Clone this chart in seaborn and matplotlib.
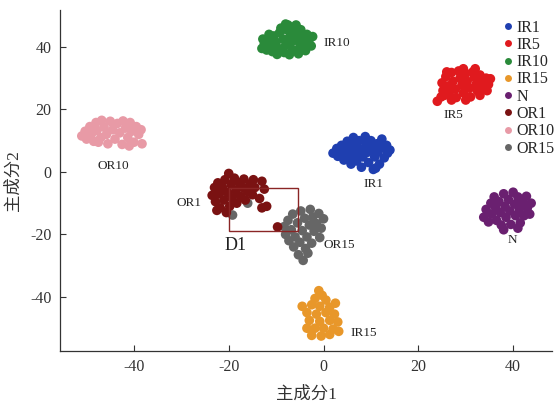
import numpy as np
import pandas as pd
import matplotlib
matplotlib.use("Agg")
import matplotlib.pyplot as plt
import seaborn as sns
from matplotlib.patches import Rectangle

# ---------------- data ----------------
classes = ["IR1", "IR5", "IR10", "IR15", "N", "OR1", "OR10", "OR15"]
colors = ["#1f3fb0", "#e01a1e", "#2a8a3a", "#e8972a", "#6a2070", "#7a1212", "#e89aa6", "#666666"]

ir10_x = [-13.0, -12.5, -12.0, -11.8, -11.0, -10.8, -10.5, -10.0, -9.5, -9.3, -9.0, -8.5, -8.3, -8.0, -7.8,
          -7.5, -7.0, -6.8, -6.5, -6.2, -6.0, -5.5, -5.3, -5.0, -4.8, -4.5, -4.0, -3.8, -3.5, -3.0, -2.6,
          -2.3, -11.5, -8.0, -5.8, -12.8, -7.2, -9.8]
ir10_y = [39.5, 41.0, 39.0, 42.5, 40.5, 38.5, 43.5, 41.5, 39.5, 44.5, 46.0, 42.5, 38.2, 40.5, 45.5,
          47.0, 43.5, 41.5, 39.0, 46.2, 44.5, 42.0, 37.8, 40.0, 45.5, 43.5, 41.0, 38.8, 44.0, 42.5, 40.3,
          43.3, 44.0, 47.3, 47.0, 42.5, 37.5, 37.6]

ir5_x = [24.0, 24.8, 25.2, 25.0, 25.8, 26.3, 26.5, 27.0, 27.3, 27.8, 28.0, 28.5, 28.8, 29.2, 29.5, 30.0,
         30.3, 30.8, 31.0, 31.5, 31.8, 32.2, 32.5, 33.0, 33.3, 33.8, 34.3, 34.8, 35.2, 26.0, 29.5, 32.0,
         27.0, 30.0, 33.0, 34.5, 25.5]
ir5_y = [22.6, 24.0, 26.0, 28.5, 30.5, 27.5, 25.0, 31.8, 29.0, 26.5, 23.8, 32.3, 30.0, 27.8, 25.3, 31.5,
         29.0, 26.8, 24.0, 32.0, 30.3, 28.0, 25.8, 31.0, 29.2, 27.0, 30.0, 28.0, 29.8, 32.0, 33.0, 33.0,
         23.0, 23.0, 24.5, 26.0, 24.5]

ir1_x = [2.0, 2.8, 3.0, 3.8, 4.0, 4.3, 5.0, 5.2, 5.5, 5.8, 6.3, 6.5, 6.8, 7.0, 7.5, 7.8, 8.0, 8.3, 8.8,
         9.0, 9.3, 9.5, 10.0, 10.3, 10.5, 10.8, 11.3, 11.5, 11.8, 12.3, 12.5, 12.8, 13.3, 13.5, 14.0, 11.0]
ir1_y = [6.0, 7.5, 5.0, 8.5, 6.3, 3.8, 9.8, 7.2, 4.8, 2.5, 11.0, 8.5, 6.0, 3.5, 10.0, 7.3, 1.5, 4.8, 11.3,
         8.8, 6.3, 3.0, 10.0, 7.5, 0.8, 4.8, 9.0, 6.3, 2.5, 10.5, 7.8, 4.5, 8.5, 6.0, 7.0, 1.2]

or10_x = [-51.0, -50.3, -50.0, -49.3, -49.0, -48.5, -48.0, -47.8, -47.0, -46.8, -46.3, -45.8, -45.5, -45.0,
          -44.5, -44.0, -43.5, -43.0, -42.5, -42.3, -41.8, -41.3, -40.8, -40.5, -40.0, -39.5, -39.0, -38.5,
          -38.3, -41.0, -47.5]
or10_y = [11.5, 13.0, 10.5, 14.5, 12.0, 9.8, 15.8, 13.3, 11.0, 16.5, 14.3, 12.0, 9.0, 16.2,
          13.5, 10.5, 15.5, 12.5, 8.8, 16.3, 14.0, 11.0, 15.8, 13.0, 9.5, 14.5, 12.0, 13.5,
          9.0, 8.3, 9.5]

or1_x = [-23.5, -23.0, -22.8, -22.3, -22.0, -21.8, -21.3, -21.0, -20.8, -20.5, -20.3, -20.0, -19.8, -19.5,
         -19.3, -18.8, -18.5, -18.3, -17.8, -17.5, -17.0, -16.8, -16.5, -16.0, -15.5, -15.0, -14.5, -13.5,
         -12.0, -13.0, -9.7, -22.5, -14.8, -13.0, -12.5]
or1_y = [-7.5, -5.0, -9.5, -3.5, -7.0, -11.5, -5.0, -9.0, -2.5, -13.0, -6.5, -0.5, -11.0, -4.0,
         -8.3, -2.0, -6.0, -10.0, -3.5, -7.8, -5.0, -2.3, -9.0, -6.3, -3.8, -7.3, -5.0, -8.5,
         -11.0, -11.5, -17.6, -12.3, -2.5, -3.0, -5.5]

or15_x = [-8.3, -8.0, -7.5, -7.3, -6.8, -6.5, -6.3, -6.0, -5.5, -5.3, -5.0, -4.8, -4.5, -4.3, -4.0, -3.8,
          -3.5, -3.0, -2.8, -2.5, -2.3, -2.0, -1.5, -1.0, -0.8, -0.5, 0.0, -3.3, -16.0, -19.2]
or15_y = [-17.5, -20.0, -15.5, -22.0, -18.5, -13.5, -24.0, -20.8, -16.3, -26.5, -22.5, -12.5, -18.8, -28.3,
          -14.8, -24.5, -20.8, -17.0, -12.0, -22.8, -14.5, -19.0, -16.5, -13.3, -21.0, -18.0, -15.0, -26.0,
          -10.0, -13.8]

n_x = [33.8, 34.3, 34.8, 35.3, 35.5, 36.0, 36.3, 36.5, 37.0, 37.3, 37.5, 38.0, 38.3, 38.5, 39.0, 39.3,
       39.5, 40.0, 40.3, 40.5, 41.0, 41.3, 41.5, 42.0, 42.3, 42.8, 43.0, 43.5, 43.8, 41.0, 38.0]
n_y = [-14.5, -12.0, -16.0, -10.0, -13.5, -8.0, -11.5, -15.5, -9.5, -13.0, -17.0, -7.0, -11.0, -14.5, -8.8, -12.5,
       -16.8, -6.5, -10.3, -14.0, -8.0, -12.0, -16.3, -9.8, -14.0, -7.8, -11.5, -13.5, -10.0, -18.0, -18.5]

ir15_x = [-1.0, -0.3, -1.8, 0.5, -4.5, -2.5, -0.8, 1.3, -3.5, -1.5, 0.5, 2.3, -3.0, -0.8, 1.3, 3.0,
          -3.5, -1.8, 0.0, 2.0, -2.5, -0.5, 1.3, 3.2, 2.5]
ir15_y = [-38.0, -39.5, -40.5, -41.0, -43.0, -42.5, -43.0, -43.3, -45.0, -45.5, -45.0, -45.5, -47.5, -47.8, -47.5,
          -48.0, -50.0, -50.0, -50.0, -50.3, -52.3, -52.5, -52.0, -51.0, -42.0]

label_text = ["IR10", "IR5", "IR1", "OR10", "OR1", "OR15", "N", "IR15"]
label_x = [2.7, 27.4, 10.5, -44.4, -28.4, 3.3, 39.8, 8.5]
label_y = [41.3, 18.2, -3.8, 1.9, -9.9, -23.4, -21.8, -51.5]

box_x = [-20.0, -5.3]
box_y = [-19.0, -5.1]
box_label = "D1"

x_label = "主成分1"
y_label = "主成分2"
x_ticks = [-40, -20, 0, 20, 40]
y_ticks = [-40, -20, 0, 20, 40]

# ---------------- build frame ----------------
cluster_xy = {
    "IR1": (ir1_x, ir1_y), "IR5": (ir5_x, ir5_y), "IR10": (ir10_x, ir10_y), "IR15": (ir15_x, ir15_y),
    "N": (n_x, n_y), "OR1": (or1_x, or1_y), "OR10": (or10_x, or10_y), "OR15": (or15_x, or15_y),
}
draw_order = ["IR10", "IR5", "IR1", "OR10", "OR15", "OR1", "N", "IR15"]
rows = []
for c in draw_order:
    xs, ys = cluster_xy[c]
    for a, b in zip(xs, ys):
        rows.append((a, b, c))
df = pd.DataFrame(rows, columns=["x", "y", "cls"])

sns.set_theme(style="white")
serif = ["Liberation Serif", "Noto Sans CJK SC"]
plt.rcParams["font.family"] = serif

fig = plt.figure(figsize=(5.54, 4.05), dpi=100)
ax = fig.add_axes([0.1083, 0.1333, 0.8881, 0.842])

palette = dict(zip(classes, colors))
sns.scatterplot(data=df, x="x", y="y", hue="cls", hue_order=classes, palette=palette,
                s=48, linewidth=0, ax=ax, legend=True)

ax.add_patch(Rectangle((box_x[0], box_y[0]), box_x[1] - box_x[0], box_y[1] - box_y[0],
                       fill=False, edgecolor="#8a2525", linewidth=1.0, zorder=3))
ax.text(-18.5, -23.5, box_label, fontsize=13, color="#222222", ha="center", va="center", family=serif)

for t, lx, ly in zip(label_text, label_x, label_y):
    ax.text(lx, ly, t, fontsize=9.5, color="#222222", ha="center", va="center", family=serif)

ax.set_xlim(-55.6, 48.2)
ax.set_ylim(-57.3, 51.8)
ax.set_xticks(x_ticks)
ax.set_yticks(y_ticks)
ax.set_xticklabels([str(v) for v in x_ticks])
ax.set_yticklabels([str(v) for v in y_ticks])
ax.tick_params(direction="in", length=4, width=0.8, colors="#333333", labelsize=11.5,
               labelcolor="#333333", bottom=True, left=True, pad=6)
for s in ["top", "right"]:
    ax.spines[s].set_visible(False)
for s in ["left", "bottom"]:
    ax.spines[s].set_color("#333333")
    ax.spines[s].set_linewidth(0.9)

ax.set_xlabel(x_label, fontsize=12.5, color="#333333", family=serif, labelpad=8)
ax.set_ylabel(y_label, fontsize=12.5, color="#333333", family=serif, labelpad=6)

handles, labels = ax.get_legend_handles_labels()
for h in handles:
    try:
        h.set_markersize(5)
    except Exception:
        pass
ax.legend(handles, labels, loc="upper left", bbox_to_anchor=(0.875, 1.0), frameon=False,
          handletextpad=0.05, labelspacing=0.08, borderaxespad=0.2,
          handlelength=1.0, prop={"family": serif, "size": 11.5})

fig.savefig("out.png", dpi=100)
